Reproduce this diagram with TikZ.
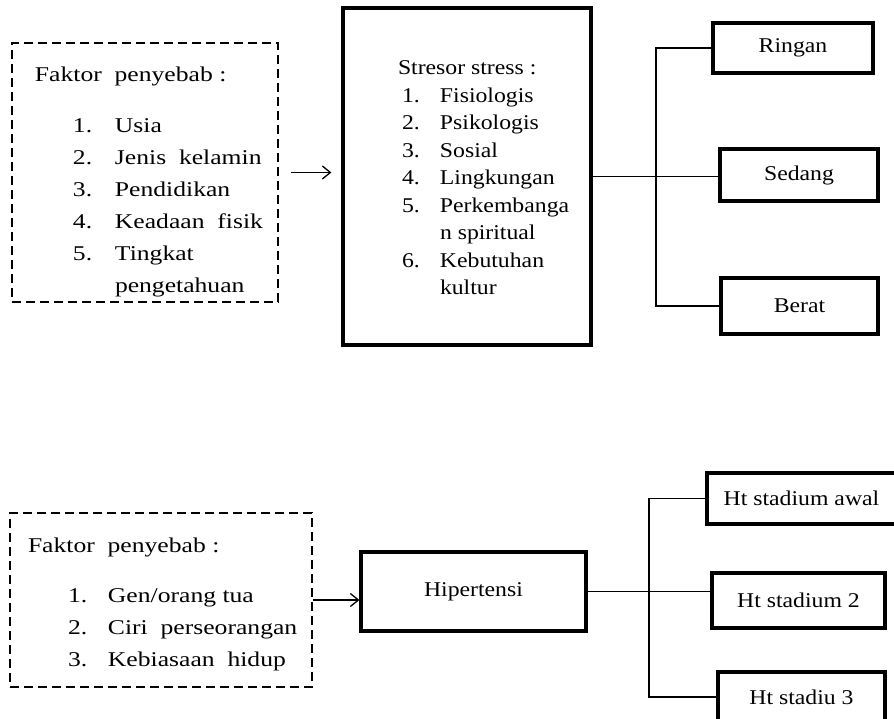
\documentclass[tikz,border=0pt]{standalone}
\usepackage{fontspec}
\setmainfont{Liberation Serif}[FakeStretch=1.13]
\newfontfamily\wideserif{Liberation Serif}[FakeStretch=1.22]
\usetikzlibrary{arrows.meta}
\usetikzlibrary{positioning}
\tikzset{
    dashbox/.style={draw, line width=1.4pt, dash pattern=on 9pt off 5pt, inner sep=0pt,
        font=\wideserif\fontsize{21}{32}\selectfont},
    boldbox/.style={draw, line width=3.2pt, inner sep=0pt, font=\fontsize{21}{27.5}\selectfont},
    levelbox/.style={draw, line width=3.2pt, inner sep=0pt, font=\fontsize{21}{25}\selectfont},
    link/.style={line width=1.3pt},
    pointer/.style={link, -{Straight Barb[length=8pt,width=13pt]}},
}

\begin{document}
\begin{tikzpicture}[x=1pt, y=-1pt]
    \useasboundingbox (0,0) rectangle (894,719);
    % stres
    \node[dashbox, text height=39pt, text depth=220pt] (faktorA) at (145,172.5) {%
        \begin{tabular}[t]{@{\hspace{61pt}}p{42pt}@{}p{163pt}@{}}
            \multicolumn{2}{@{\hspace{23pt}}l@{}}{Faktor~~penyebab~:}\\[19pt]
            1. & Usia\\
            2. & Jenis~~kelamin\\
            3. & Pendidikan\\
            4. & Keadaan~~fisik\\
            5. & Tingkat\\
               & pengetahuan
        \end{tabular}};
    \node[boldbox, text height=67pt, text depth=270pt] (stresor) at (467,176.5) {%
        \begin{tabular}[t]{@{\hspace{59pt}}p{38pt}@{}p{151pt}@{}}
            \multicolumn{2}{@{\hspace{55pt}}l@{}}{Stresor stress :}\\
            1. & Fisiologis\\
            2. & Psikologis\\
            3. & Sosial\\
            4. & Lingkungan\\
            5. & Perkembanga\\
               & n spiritual\\
            6. & Kebutuhan\\
               & kultur
        \end{tabular}};
    \node[levelbox, minimum width=160pt, minimum height=50pt] (ringan) at (793,48) {Ringan};
    \node[levelbox, minimum width=158pt, minimum height=52pt] (sedang) at (799,175) {Sedang};
    \node[levelbox, minimum width=157pt, minimum height=56pt] (berat) at (799.5,306) {Berat};
    \coordinate (forkA) at (656,180);
    \draw[pointer, shorten <=12pt, shorten >=10pt] (faktorA.east) -- (faktorA.east -| stresor.west);
    \draw[link] (stresor.east) -- (stresor.east -| sedang.west);
    \draw[link] (ringan.west) -| (forkA) |- (berat.west);

    % hipertensi
    \node[dashbox, text height=39pt, text depth=135pt] (faktorB) at (161,600) {%
        \begin{tabular}[t]{@{\hspace{58pt}}p{40pt}@{}p{204pt}@{}}
            \multicolumn{2}{@{\hspace{18pt}}l@{}}{Faktor~~penyebab~:}\\[18.5pt]
            1. & Gen/orang tua\\
            2. & Ciri~~perseorangan\\
            3. & Kebiasaan~~hidup
        \end{tabular}};
    \node[levelbox, minimum width=225pt, minimum height=79pt] (hipertensi) at (473.5,591.5) {Hipertensi};
    \node[levelbox, minimum width=189pt, minimum height=51pt] (stadAwal) at (801.5,498.5) {Ht stadium awal};
    \node[levelbox, minimum width=173pt, minimum height=55pt] (stadDua) at (798.5,600.5) {Ht stadium 2};
    \node[levelbox, minimum width=167pt, minimum height=50pt] (stadTiga) at (801.5,697) {Ht stadiu 3};
    \coordinate (forkB) at (649,595);
    \draw[pointer] (faktorB.east) -- (faktorB.east -| hipertensi.west);
    \draw[link] (hipertensi.east) -- (hipertensi.east -| stadDua.west);
    \draw[link] (stadAwal.west) -| (forkB) |- (stadTiga.west);
\end{tikzpicture}
\end{document}
